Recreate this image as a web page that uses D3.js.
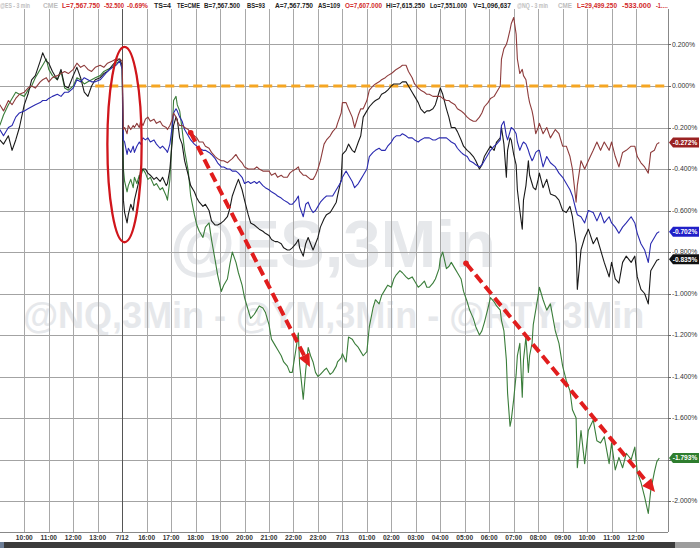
<!DOCTYPE html>
<html><head><meta charset="utf-8">
<script src="https://cdn.jsdelivr.net/npm/d3@7/dist/d3.min.js"></script>
<style>html,body{margin:0;padding:0;background:#fff}svg{display:block}</style>
</head><body>
<svg id="chart" width="700" height="548"></svg>
<script>
// ---- data (3-minute bar index, % change) ----
const bars = [
0,3,7,10,13,16,20,23,26,29, 33,35,38,40,43,47,50,53,56,60, 63,66,69,72,75,78,82,85,88,92,
95,98,100,101,102,104,105,107,109,110, 112,114,115,117,119,121,123,126,128,131,
133,136,137,139,141,142,144,145,147,149, 151,154,156,159,161,163,166,168,171,173,
176,178,181,183,186,188,190,193,195,198, 200,203,205,208,210,212,215,217,220,222,
225,227,230,232,235,237,239,242,244,245, 248,250,252,254,256,258,260,262,265,267,
270,272,275,276,279,280,283,285,288,290, 293,295,297,300,302,305,307,310,312,315,
317,320,322,324,327,329,332,334,337,339, 342,344,347,349,351,354,356,359,360,362,
365,367,369,372,374,377,379,382,384,387, 389,392,394,396,399,401,404,406,409,410,
412,414,415,417,418,420,422,423,425,427, 428,430,432,433,435,436,438,440,441,444,
447,450,454,457,460,463,466,468,471,472, 475,478,481,485,488,491,494,498,500,503,
506,509,512,516,519,521,524,527,530,532, 535,537,539];

const ymVals = [ // brown
-0.09,-0.12,-0.07,-0.09,-0.06,-0.04,-0.03,-0.01,0.00,-0.01,
0.02,0.03,0.04,0.02,0.04,0.05,0.06,0.07,0.06,0.08,
0.11,0.09,0.10,0.08,0.07,0.09,0.10,0.09,0.11,0.12,
0.13,0.13,0.12,-0.21,-0.20,-0.23,-0.19,-0.21,-0.19,-0.20,
-0.18,-0.20,-0.17,-0.19,-0.16,-0.15,-0.17,-0.16,-0.18,-0.17,
-0.19,-0.20,-0.21,-0.19,-0.16,-0.13,-0.15,-0.17,-0.19,-0.19,
-0.20,-0.21,-0.23,-0.24,-0.25,-0.27,-0.27,-0.29,-0.30,-0.32,
-0.34,-0.35,-0.36,-0.36,-0.37,-0.36,-0.35,-0.33,-0.35,-0.37,
-0.39,-0.40,-0.40,-0.40,-0.39,-0.40,-0.41,-0.41,-0.41,-0.43,
-0.42,-0.44,-0.43,-0.44,-0.44,-0.42,-0.41,-0.40,-0.39,-0.41,
-0.43,-0.43,-0.44,-0.45,-0.45,-0.43,-0.40,-0.36,-0.28,-0.26,
-0.24,-0.22,-0.20,-0.18,-0.13,-0.08,-0.08,-0.11,-0.15,-0.20,
-0.14,-0.11,-0.11,-0.07,-0.02,0.00,0.01,0.02,0.03,0.04,
0.05,0.06,0.07,0.08,0.09,0.10,0.10,0.07,0.04,0.01,
-0.01,-0.02,-0.03,-0.04,-0.04,-0.05,-0.05,-0.05,-0.05,-0.06,
-0.07,-0.07,-0.08,-0.09,-0.11,-0.12,-0.13,-0.15,-0.16,-0.17,
-0.17,-0.15,-0.13,-0.10,-0.08,-0.06,-0.05,-0.03,0.00,0.13,
0.18,0.20,0.22,0.27,0.30,0.33,0.25,0.13,0.06,0.08,
0.05,0.03,-0.05,-0.08,-0.12,-0.15,-0.23,-0.20,-0.18,-0.23,
-0.20,-0.25,-0.21,-0.23,-0.29,-0.29,-0.34,-0.40,-0.56,-0.48,
-0.36,-0.40,-0.36,-0.31,-0.27,-0.31,-0.27,-0.31,-0.27,-0.34,
-0.39,-0.32,-0.31,-0.29,-0.29,-0.34,-0.37,-0.39,-0.42,-0.32,
-0.31,-0.28,-0.272];

const esVals = [ // blue
-0.21,-0.24,-0.20,-0.19,-0.15,-0.13,-0.12,-0.11,-0.10,-0.09,
-0.08,-0.07,-0.07,-0.06,-0.05,-0.04,-0.05,-0.03,-0.03,-0.01,
0.03,0.02,0.04,0.03,0.02,0.02,0.03,0.05,0.07,0.09,
0.10,0.12,0.08,-0.26,-0.27,-0.33,-0.30,-0.32,-0.29,-0.32,
-0.29,-0.27,-0.28,-0.25,-0.26,-0.25,-0.27,-0.26,-0.28,-0.30,
-0.29,-0.31,-0.32,-0.28,-0.19,-0.13,-0.11,-0.12,-0.15,-0.17,
-0.21,-0.24,-0.26,-0.28,-0.29,-0.30,-0.31,-0.31,-0.32,-0.33,
-0.35,-0.37,-0.39,-0.39,-0.40,-0.40,-0.41,-0.41,-0.42,-0.44,
-0.47,-0.46,-0.47,-0.46,-0.47,-0.46,-0.48,-0.49,-0.50,-0.51,
-0.52,-0.53,-0.54,-0.55,-0.56,-0.57,-0.57,-0.55,-0.53,-0.58,
-0.63,-0.57,-0.56,-0.59,-0.61,-0.60,-0.58,-0.56,-0.54,-0.53,
-0.53,-0.53,-0.50,-0.49,-0.46,-0.44,-0.41,-0.43,-0.46,-0.49,
-0.47,-0.45,-0.43,-0.40,-0.34,-0.32,-0.31,-0.30,-0.31,-0.31,
-0.29,-0.27,-0.25,-0.24,-0.24,-0.23,-0.24,-0.25,-0.25,-0.26,
-0.27,-0.26,-0.25,-0.25,-0.25,-0.26,-0.26,-0.25,-0.25,-0.25,
-0.25,-0.26,-0.27,-0.28,-0.30,-0.32,-0.33,-0.34,-0.36,-0.37,
-0.38,-0.39,-0.38,-0.36,-0.33,-0.31,-0.29,-0.28,-0.26,-0.19,
-0.17,-0.24,-0.26,-0.22,-0.20,-0.21,-0.23,-0.27,-0.31,-0.28,
-0.27,-0.28,-0.31,-0.33,-0.36,-0.35,-0.32,-0.31,-0.31,-0.39,
-0.34,-0.37,-0.39,-0.42,-0.44,-0.47,-0.50,-0.53,-0.60,-0.62,
-0.63,-0.66,-0.60,-0.61,-0.65,-0.61,-0.66,-0.63,-0.66,-0.68,
-0.71,-0.68,-0.66,-0.63,-0.66,-0.71,-0.76,-0.79,-0.85,-0.76,
-0.73,-0.71,-0.702];

const rtyVals = [ // black
-0.26,-0.28,-0.24,-0.31,-0.26,-0.20,-0.09,-0.04,0.03,0.05,
0.12,0.16,0.12,0.11,0.07,0.03,0.08,0.00,-0.01,0.05,
0.09,0.04,-0.03,-0.05,0.00,0.03,0.04,0.06,0.07,0.10,
0.12,0.13,0.10,-0.55,-0.61,-0.66,-0.62,-0.57,-0.60,-0.55,
-0.50,-0.45,-0.41,-0.40,-0.40,-0.42,-0.43,-0.45,-0.44,-0.46,
-0.44,-0.48,-0.47,-0.40,-0.26,-0.19,-0.15,-0.16,-0.25,-0.28,
-0.36,-0.43,-0.48,-0.51,-0.54,-0.56,-0.58,-0.57,-0.60,-0.65,
-0.67,-0.67,-0.66,-0.65,-0.63,-0.59,-0.53,-0.48,-0.45,-0.50,
-0.55,-0.62,-0.66,-0.67,-0.68,-0.69,-0.70,-0.71,-0.72,-0.74,
-0.75,-0.75,-0.76,-0.78,-0.79,-0.79,-0.78,-0.76,-0.74,-0.78,
-0.82,-0.76,-0.73,-0.76,-0.79,-0.76,-0.73,-0.68,-0.64,-0.62,
-0.61,-0.59,-0.56,-0.53,-0.45,-0.33,-0.31,-0.28,-0.31,-0.32,
-0.27,-0.24,-0.15,-0.12,-0.10,-0.08,-0.07,-0.06,-0.04,-0.03,
-0.02,0.00,0.01,0.01,0.01,0.02,0.02,0.00,-0.03,-0.05,
-0.08,-0.11,-0.13,-0.12,-0.12,-0.11,-0.09,-0.03,-0.01,-0.04,
-0.11,-0.15,-0.20,-0.20,-0.22,-0.26,-0.29,-0.31,-0.32,-0.34,
-0.36,-0.40,-0.38,-0.34,-0.31,-0.29,-0.31,-0.27,-0.25,-0.20,
-0.28,-0.44,-0.31,-0.25,-0.26,-0.33,-0.38,-0.50,-0.60,-0.69,
-0.55,-0.48,-0.36,-0.43,-0.47,-0.49,-0.50,-0.45,-0.42,-0.49,
-0.45,-0.52,-0.53,-0.55,-0.60,-0.61,-0.58,-0.63,-0.76,-0.98,
-0.79,-0.73,-0.69,-0.76,-0.73,-0.79,-0.85,-0.92,-0.85,-0.93,
-0.95,-0.85,-0.82,-0.85,-0.82,-0.92,-0.98,-1.00,-1.05,-0.89,
-0.86,-0.84,-0.835];

const nqVals = [ // green
-0.19,-0.14,-0.09,-0.06,-0.03,-0.04,-0.05,-0.02,0.00,0.04,
0.08,0.10,0.13,0.08,0.05,0.03,0.07,-0.01,-0.02,0.00,
0.04,0.03,0.01,0.02,0.03,0.04,0.05,0.07,0.08,0.09,
0.11,0.12,0.09,-0.40,-0.46,-0.51,-0.48,-0.45,-0.49,-0.44,
-0.47,-0.43,-0.44,-0.40,-0.42,-0.45,-0.44,-0.48,-0.47,-0.50,
-0.49,-0.53,-0.55,-0.45,-0.21,-0.07,-0.05,-0.09,-0.12,-0.21,
-0.31,-0.41,-0.53,-0.62,-0.67,-0.70,-0.73,-0.68,-0.66,-0.74,
-0.84,-0.91,-0.99,-0.96,-0.93,-0.86,-0.80,-0.85,-0.90,-0.96,
-1.02,-1.08,-1.12,-1.10,-1.08,-1.06,-1.07,-1.09,-1.15,-1.22,
-1.25,-1.27,-1.30,-1.33,-1.35,-1.38,-1.38,-1.27,-1.19,-1.34,
-1.51,-1.37,-1.26,-1.30,-1.33,-1.38,-1.40,-1.39,-1.37,-1.36,
-1.39,-1.38,-1.35,-1.33,-1.31,-1.29,-1.33,-1.21,-1.22,-1.24,
-1.26,-1.28,-1.30,-1.28,-1.16,-1.07,-1.03,-1.05,-1.01,-0.98,
-0.96,-0.97,-0.93,-0.91,-0.89,-0.90,-0.92,-0.93,-0.92,-0.94,
-0.97,-0.96,-0.94,-0.97,-0.97,-0.95,-0.93,-0.88,-0.83,-0.80,
-0.88,-0.87,-0.85,-0.88,-0.90,-0.93,-0.99,-1.04,-1.08,-1.12,
-1.16,-1.20,-1.18,-1.14,-1.07,-1.02,-1.04,-1.06,-1.08,-1.13,
-1.18,-1.32,-1.48,-1.64,-1.61,-1.51,-1.39,-1.30,-1.24,-1.50,
-1.32,-1.21,-1.38,-1.30,-1.24,-1.15,-1.08,-1.01,-0.97,-1.03,
-1.08,-1.05,-1.18,-1.24,-1.35,-1.42,-1.47,-1.56,-1.60,-1.84,
-1.66,-1.82,-1.66,-1.61,-1.71,-1.72,-1.69,-1.82,-1.72,-1.85,
-1.79,-1.84,-1.77,-1.80,-1.74,-1.86,-1.91,-1.98,-2.06,-1.95,
-1.86,-1.81,-1.793];

const timeLabels = ["10:00","11:00","12:00","13:00","7/12","16:00","17:00","18:00","19:00","20:00",
  "21:00","22:00","23:00","7/13","01:00","02:00","03:00","04:00","05:00","06:00","07:00",
  "08:00","09:00","10:00","11:00","12:00"];
const yTickValues = [0.2,0,-0.2,-0.4,-0.6,-0.8,-1.0,-1.2,-1.4,-1.6,-1.8,-2.0];
const lastValues = [-0.272,-0.702,-0.835,-1.793];
const headerTexts = ["@ES - 3 min","CME","L=7,567.750","-52.500","-0.69%","TS=4","TE=CME",
  "B=7,567.500","BS=93","A=7,567.750","AS=109","O=7,607.000","Hi=7,615.250","Lo=7,551.000",
  "V=1,096,637","@NQ - 3 min","CME","L=29,499.250","-533.000","-1.…"];
const headerKinds = ["g","g","r","r","r","k","k","k","k","k","k","r","k","k","k","g","g","r","r","r"];
// annotations in data units
const arrowSegs = [ {b0:156, v0:-0.225, b1:253.5, v1:-1.354}, {b0:381, v0:-0.854, b1:535.5, v1:-1.957} ];
const ellipseAnn = {b:101.9, v:-0.282, rb:14, rv:0.471};
const refLine = {b0:78, b1:546, v:0};

// ---- layout / styles ----
const svg = d3.select("#chart");
const W = 700, H = 548;
const x = d3.scaleLinear().domain([20, 520]).range([24.3, 636.05]);
const y = d3.scaleLinear().domain([0, -2]).range([86, 501]);
const plotR = 668, plotTop = 9, plotBot = 532;
const seriesColors = ["#8e3c3c","#2a2ab0","#1a1a1a","#3a7d3a"];
const badgeColors = ["#9a2222","#2020c8","#111111","#2e7d2e"];
const headerColor = {g:"#bdbdbd", r:"#d22a2a", k:"#222"};
const headerSpans = [[0,30],[43,58],[62,100],[104,124],[127,148],[154,171],[177,200],[204,240],[247,265],
  [275,313],[318,340],[345,382],[386,425],[430,467],[473,511],[517,548],[558,572],[577,617],[622,651],[656,668]];

svg.append("rect").attr("width",W).attr("height",H).attr("fill","#fff");

// watermark
const wm = svg.append("g").attr("font-family","Liberation Sans, Arial, sans-serif").attr("font-weight","bold").attr("fill","#e6e8eb");
wm.append("text").attr("x",333).attr("y",267).attr("text-anchor","middle").attr("font-size",67).text("@ES,3Min");
wm.append("text").attr("x",23).attr("y",328).attr("font-size",36).text("@NQ,3Min - @YM,3Min - @RTY,3Min");

// grid
const grid = svg.append("g");
grid.selectAll("line.h").data(yTickValues).join("line")
  .attr("x1",0).attr("x2",plotR).attr("y1",d=>Math.round(y(d))+0.5).attr("y2",d=>Math.round(y(d))+0.5)
  .attr("stroke","#a3a3a3").attr("stroke-width",1);
grid.selectAll("line.v").data(timeLabels).join("line")
  .attr("x1",(d,i)=>Math.round(x(20*(i+1)))+0.5).attr("x2",(d,i)=>Math.round(x(20*(i+1)))+0.5)
  .attr("y1",plotTop).attr("y2",plotBot)
  .attr("stroke",d=>d==="7/12"?"#555":"#a8a8a8").attr("stroke-width",1);
svg.append("line").attr("x1",plotR+0.5).attr("x2",plotR+0.5).attr("y1",plotTop).attr("y2",plotBot).attr("stroke","#888");
svg.append("line").attr("x1",0).attr("x2",plotR).attr("y1",plotBot+0.5).attr("y2",plotBot+0.5).attr("stroke","#888");

// orange zero reference
svg.append("line").attr("x1",x(refLine.b0)).attr("x2",x(refLine.b1)).attr("y1",y(refLine.v)).attr("y2",y(refLine.v))
  .attr("stroke","#f5a623").attr("stroke-width",3).attr("stroke-dasharray","9,5");

// series
const seriesList = [nqVals, rtyVals, esVals, ymVals];
const colorOrder = [3,2,1,0];
const line = d3.line().x(d=>x(d[0])).y(d=>y(d[1]));
seriesList.forEach((vals,k)=>{
  svg.append("path").datum(bars.map((b,i)=>[b,vals[i]]))
    .attr("d",line).attr("fill","none").attr("stroke",seriesColors[colorOrder[k]])
    .attr("stroke-width",1.1).attr("stroke-linejoin","round");
});

// annotations
const red = "#e11d1d";
svg.append("ellipse").attr("cx",x(ellipseAnn.b)).attr("cy",y(ellipseAnn.v))
  .attr("rx",x(ellipseAnn.b+ellipseAnn.rb)-x(ellipseAnn.b)).attr("ry",y(ellipseAnn.v-ellipseAnn.rv)-y(ellipseAnn.v))
  .attr("fill","none").attr("stroke","#d0151b").attr("stroke-width",2.3);
arrowSegs.forEach(a=>{
  const X0=x(a.b0), Y0=y(a.v0), X1=x(a.b1), Y1=y(a.v1);
  const dx=X1-X0, dy=Y1-Y0, L=Math.hypot(dx,dy), ux=dx/L, uy=dy/L;
  const hl=13, hw=6;
  const bx=X1-ux*hl, by=Y1-uy*hl;
  svg.append("line").attr("x1",X0).attr("y1",Y0).attr("x2",bx).attr("y2",by)
    .attr("stroke",red).attr("stroke-width",4).attr("stroke-dasharray","10,5");
  svg.append("circle").attr("cx",X0).attr("cy",Y0).attr("r",2.8).attr("fill",red);
  svg.append("path").attr("d",`M${X1},${Y1}L${bx-uy*hw},${by+ux*hw}L${bx+uy*hw},${by-ux*hw}Z`).attr("fill",red);
});

// header
const hdr = svg.append("g").attr("font-family","Liberation Sans, Arial, sans-serif").attr("font-weight","bold").attr("font-size",6.3);
hdr.selectAll("text").data(headerTexts).join("text")
  .attr("x",(d,i)=>headerSpans[i][0]).attr("y",8)
  .attr("textLength",(d,i)=>headerSpans[i][1]-headerSpans[i][0]).attr("lengthAdjust","spacingAndGlyphs")
  .attr("fill",(d,i)=>headerColor[headerKinds[i]]).text(d=>d);

// y axis labels
const ya = svg.append("g").attr("font-family","Liberation Sans, Arial, sans-serif").attr("font-size",6.8).attr("fill","#333");
ya.selectAll("line").data(yTickValues).join("line")
  .attr("x1",plotR).attr("x2",plotR+3).attr("y1",d=>Math.round(y(d))+0.5).attr("y2",d=>Math.round(y(d))+0.5).attr("stroke","#666");
ya.selectAll("text").data(yTickValues).join("text")
  .attr("x",plotR+4).attr("y",d=>y(d)).attr("dy","0.35em").text(d=>d3.format(".3f")(d).replace("−","-")+"%");

// x axis labels
const xa = svg.append("g").attr("font-family","Liberation Sans, Arial, sans-serif").attr("font-size",6.6).attr("font-weight","bold").attr("fill","#333");
xa.selectAll("text").data(timeLabels).join("text")
  .attr("x",(d,i)=>x(20*(i+1))).attr("y",540).attr("text-anchor","middle").text(d=>d);

// last-value badges
const bg = svg.append("g");
lastValues.forEach((v,k)=>{
  const c = y(v);
  bg.append("path").attr("d",`M${plotR+1},${c}L${plotR+5},${c-5}H699V${c+5}H${plotR+5}Z`).attr("fill",badgeColors[k]);
  bg.append("text").attr("x",685).attr("y",c).attr("dy","0.35em").attr("text-anchor","middle")
    .attr("font-family","Liberation Sans, Arial, sans-serif").attr("font-weight","bold").attr("font-size",6.6)
    .attr("fill","#fff").text(d3.format(".3f")(v).replace("−","-")+"%");
});

// bottom bar
svg.append("rect").attr("x",0).attr("y",542).attr("width",W).attr("height",6).attr("fill","#3b3b3b");
svg.append("rect").attr("x",0).attr("y",542).attr("width",4).attr("height",6).attr("fill","#6c7d96");
svg.append("rect").attr("x",675).attr("y",542).attr("width",25).attr("height",6).attr("fill","#9d9d9d");
</script>
</body></html>
